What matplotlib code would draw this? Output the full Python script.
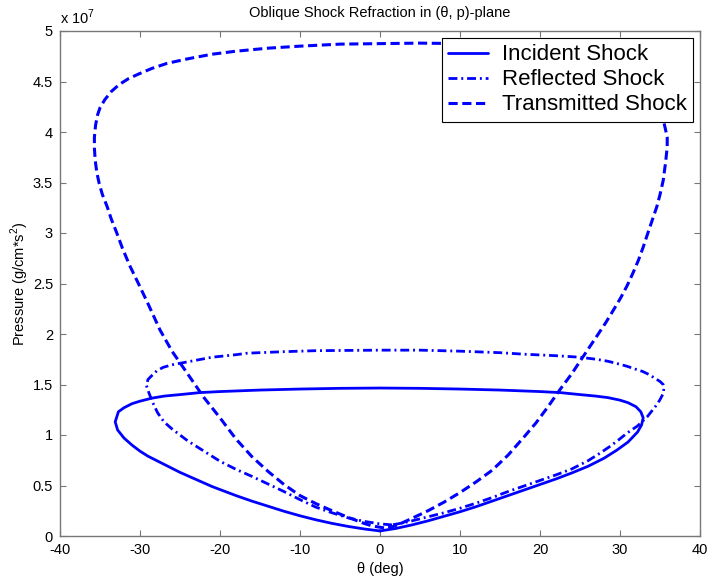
import matplotlib
matplotlib.use("Agg")
import matplotlib.pyplot as plt

plt.rcParams['font.family'] = ['Liberation Sans', 'DejaVu Sans']
plt.rcParams['mathtext.fontset'] = 'custom'
plt.rcParams['mathtext.rm'] = 'Liberation Sans'
plt.rcParams['axes.unicode_minus'] = False

# Shock polars in the (theta, p) plane; pressure in units of 1e7 g/(cm*s^2)
theta_incident = [0, -2, -4, -6, -8, -10, -12, -14, -16, -18,
                  -20, -21, -22, -23, -24, -25, -26, -27, -28, -29,
                  -30, -31, -32, -32.8, -33.1, -32.7, -32, -31, -30, -28.5,
                  -27, -25, -22.5, -20, -15, -10, -5, 0, 5, 10,
                  15, 20, 22.5, 25, 27, 28.5, 30, 31, 32, 32.6,
                  32.9, 32.7, 32.2, 31, 29.6, 28, 26, 24, 22, 20,
                  18, 16, 14, 12, 10, 8, 6, 4, 2, 0]
p_incident = [0.05, 0.07, 0.095, 0.125, 0.16, 0.20, 0.245, 0.295, 0.345, 0.40,
              0.46, 0.49, 0.525, 0.56, 0.595, 0.63, 0.67, 0.71, 0.75, 0.79,
              0.84, 0.90, 0.97, 1.05, 1.13, 1.23, 1.27, 1.31, 1.335, 1.365,
              1.385, 1.40, 1.42, 1.43, 1.445, 1.455, 1.462, 1.465, 1.462, 1.455,
              1.445, 1.43, 1.42, 1.40, 1.385, 1.37, 1.345, 1.32, 1.28, 1.23,
              1.17, 1.10, 1.03, 0.93, 0.85, 0.77, 0.69, 0.625, 0.565, 0.51,
              0.455, 0.40, 0.345, 0.29, 0.24, 0.195, 0.15, 0.11, 0.075, 0.05]

theta_reflected = [1.5, 0, -2, -4, -6, -8, -10, -12, -14, -16,
                   -18, -20, -22, -24, -25, -26, -27, -27.8, -28.4, -28.9,
                   -29.2, -29, -28.5, -27.9, -27.1, -26, -25, -23, -21, -18,
                   -16.6, -12, -8, 0, 5, 10, 15, 18, 22, 25,
                   27, 28.5, 30, 30.9, 32, 32.8, 33.6, 34.1, 34.6, 35.0,
                   35.4, 35.5, 35.4, 35, 34.6, 34, 33.4, 32.2, 30.9, 29.8,
                   28.8, 27.5, 26, 24, 22, 20, 18, 16, 14, 12,
                   10, 8, 6, 4, 2.9, 1.5]
p_reflected = [0.11, 0.12, 0.145, 0.18, 0.23, 0.285, 0.36, 0.44, 0.515, 0.59,
               0.66, 0.74, 0.84, 0.94, 1.0, 1.06, 1.13, 1.22, 1.32, 1.42,
               1.49, 1.55, 1.59, 1.635, 1.67, 1.695, 1.71, 1.74, 1.77, 1.795,
               1.81, 1.825, 1.835, 1.84, 1.84, 1.83, 1.815, 1.80, 1.785, 1.77,
               1.75, 1.73, 1.70, 1.68, 1.65, 1.63, 1.60, 1.575, 1.55, 1.53,
               1.50, 1.47, 1.41, 1.35, 1.30, 1.24, 1.18, 1.09, 1.02, 0.95,
               0.89, 0.82, 0.745, 0.665, 0.605, 0.55, 0.495, 0.44, 0.38, 0.325,
               0.275, 0.23, 0.19, 0.15, 0.13, 0.11]

theta_transmitted = [0.5, -1, -2, -3, -4, -6, -8, -10, -12, -14,
                     -16, -18, -20, -22, -24, -26, -27.5, -29, -30.2, -31.3,
                     -32.2, -32.9, -33.6, -34.1, -34.7, -35.1, -35.4, -35.6, -35.7, -35.7,
                     -35.55, -35.3, -35.0, -34.4, -33.6, -32.6, -31.4, -30, -28.5, -26.6,
                     -24, -21, -18, -14, -10, -5, 0, 5, 10, 15,
                     20, 24, 27, 29.5, 31.5, 33, 34.2, 35, 35.5, 35.9,
                     35.9, 35.7, 35.4, 35, 34.6, 34, 33.4, 32.9, 32.3, 31.6,
                     30.9, 30.1, 29.2, 28.2, 27.2, 26.1, 25, 24, 22.5, 21,
                     19.5, 18, 16, 14, 12, 10, 8, 6, 4, 2.5,
                     1.5, 0.5]
p_transmitted = [0.08, 0.10, 0.125, 0.155, 0.185, 0.25, 0.32, 0.40, 0.51, 0.64,
                 0.785, 0.96, 1.17, 1.37, 1.60, 1.83, 2.04, 2.30, 2.50, 2.68,
                 2.85, 3.0, 3.14, 3.26, 3.38, 3.49, 3.60, 3.72, 3.84, 3.95,
                 4.07, 4.17, 4.24, 4.32, 4.40, 4.47, 4.53, 4.58, 4.63, 4.68,
                 4.725, 4.77, 4.80, 4.83, 4.85, 4.87, 4.875, 4.88, 4.875, 4.86,
                 4.83, 4.77, 4.70, 4.60, 4.50, 4.40, 4.30, 4.20, 4.09, 3.95,
                 3.85, 3.70, 3.52, 3.38, 3.26, 3.12, 2.98, 2.86, 2.73, 2.60,
                 2.48, 2.36, 2.24, 2.11, 1.99, 1.86, 1.73, 1.61, 1.45, 1.28,
                 1.12, 0.98, 0.80, 0.65, 0.535, 0.43, 0.335, 0.25, 0.175, 0.12,
                 0.09, 0.08]

series_labels = ['Incident Shock', 'Reflected Shock', 'Transmitted Shock']
x_ticks = [-40, -30, -20, -10, 0, 10, 20, 30, 40]
y_ticks = [0, 0.5, 1, 1.5, 2, 2.5, 3, 3.5, 4, 4.5, 5]
y_tick_labels = ['0', '0.5', '1', '1.5', '2', '2.5', '3', '3.5', '4', '4.5', '5']

fig = plt.figure(figsize=(7.07, 5.84), dpi=100)
ax = fig.add_axes([60 / 707, 48 / 584, 640 / 707, 505 / 584])

blue = (0, 0, 1)
common = dict(color=blue, solid_joinstyle='round', dash_joinstyle='round',
              solid_capstyle='round')
ax.plot(theta_incident, p_incident, lw=2.0, ls='-',
        label=series_labels[0], **common)
ax.plot(theta_reflected, p_reflected, lw=2.0,
        dashes=(3.2, 1.4, 0.7, 1.4), label=series_labels[1], **common)
ax.plot(theta_transmitted, p_transmitted, lw=2.2,
        dashes=(3.0, 1.5), label=series_labels[2], **common)

ax.set_xlim(-40, 40)
ax.set_ylim(0, 5)
ax.set_xticks(x_ticks)
ax.set_yticks(y_ticks)
ax.set_yticklabels(y_tick_labels)
ax.tick_params(direction='in', length=4.5, width=0.8, color='#777777',
               top=True, right=True, labelsize=10.5, pad=5)
for s in ax.spines.values():
    s.set_color('#777777')
    s.set_linewidth(1.0)

ax.text(0.0, 1.008, r'x 10$^{7}$', transform=ax.transAxes,
        ha='left', va='bottom', fontsize=10.5)
ax.set_title('Oblique Shock Refraction in (\u03b8, p)-plane', fontsize=10.5, pad=10)
ax.set_xlabel('\u03b8 (deg)', fontsize=10.5, labelpad=4)
ax.set_ylabel(r'Pressure (g/cm*s$^{2}$)', fontsize=10.5, labelpad=1)

leg = ax.legend(loc='upper right', fontsize=16, handlelength=1.8,
                borderaxespad=0.3, labelspacing=0.18, handletextpad=0.6,
                borderpad=0.3, fancybox=False, framealpha=1.0)
leg.get_frame().set_edgecolor('black')
leg.get_frame().set_linewidth(0.8)

fig.savefig('out.png', dpi=100)
